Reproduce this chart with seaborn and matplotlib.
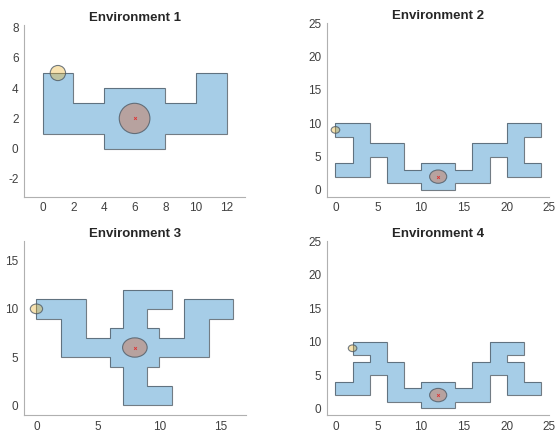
import numpy as np
import matplotlib
matplotlib.use("Agg")
import matplotlib.pyplot as plt
from matplotlib.patches import Polygon, Circle
import seaborn as sns

# environment outlines (x, y vertices)
env1_x = [0, 0, 2, 2, 4, 4, 8, 8, 10, 10, 12, 12, 8, 8, 4, 4]
env1_y = [1, 5, 5, 3, 3, 4, 4, 3, 3, 5, 5, 1, 1, 0, 0, 1]

env2_x = [0, 0, 2, 2, 0, 0, 4, 4, 8, 8, 10, 10, 14, 14, 16, 16, 20, 20, 24, 24,
          22, 22, 24, 24, 20, 20, 18, 18, 14, 14, 10, 10, 6, 6, 4, 4]
env2_y = [2, 4, 4, 8, 8, 10, 10, 7, 7, 3, 3, 4, 4, 3, 3, 7, 7, 10, 10, 8,
          8, 4, 4, 2, 2, 5, 5, 1, 1, 0, 0, 1, 1, 5, 5, 2]

env3_x = [0, 4, 4, 6, 6, 7, 7, 11, 11, 9, 9, 10, 10, 12, 12, 16, 16, 14, 14, 10,
          10, 9, 9, 11, 11, 7, 7, 6, 6, 2, 2, 0]
env3_y = [11, 11, 7, 7, 8, 8, 12, 12, 10, 10, 8, 8, 7, 7, 11, 11, 9, 9, 5, 5,
          4, 4, 2, 2, 0, 0, 4, 4, 5, 5, 9, 9]

env4_x = [0, 0, 2, 2, 4, 4, 2, 2, 6, 6, 8, 8, 10, 10, 14, 14, 16, 16, 18, 18,
          22, 22, 20, 20, 22, 22, 24, 24, 20, 20, 18, 18, 14, 14, 10, 10, 6, 6, 4, 4]
env4_y = [2, 4, 4, 7, 7, 8, 8, 10, 10, 7, 7, 3, 3, 4, 4, 3, 3, 7, 7, 10,
          10, 8, 8, 7, 7, 4, 4, 2, 2, 5, 5, 1, 1, 0, 0, 1, 1, 5, 5, 2]

start_pts = [(1, 5), (0, 9), (0, 10), (2, 9)]
goal_pts = [(6, 2), (12, 2), (8, 6), (12, 2)]
start_r = 0.5
goal_r = 1.0

titles = ["Environment 1", "Environment 2", "Environment 3", "Environment 4"]
outlines = [(env1_x, env1_y), (env2_x, env2_y), (env3_x, env3_y), (env4_x, env4_y)]

sns.set_style("white")
plt.rcParams['font.family'] = ['Liberation Sans', 'DejaVu Sans']
plt.rcParams['axes.unicode_minus'] = False

blue = "#0072bd"
orange = "#d95319"
yellow = "#edb120"
edge = "#4f5b66"

fig = plt.figure(figsize=(5.55, 4.37), dpi=100)
positions = [
    [0.0435, 0.550, 0.398, 0.393],
    [0.589, 0.550, 0.401, 0.397],
    [0.0435, 0.050, 0.399, 0.398],
    [0.589, 0.050, 0.401, 0.398],
]
limits = [
    ((-1.2, 13.2), (-3.17, 8.18), np.arange(0, 13, 2), np.arange(-2, 9, 2)),
    ((-1, 25), (-1, 25), np.arange(0, 26, 5), np.arange(0, 26, 5)),
    ((-1, 17), (-1, 17), np.arange(0, 16, 5), np.arange(0, 16, 5)),
    ((-1, 25), (-1, 25), np.arange(0, 26, 5), np.arange(0, 26, 5)),
]

for i in range(4):
    ax = fig.add_axes(positions[i])
    xs, ys = outlines[i]
    ax.add_patch(Polygon(np.column_stack([xs, ys]), closed=True,
                         facecolor=blue, alpha=0.35, edgecolor="none"))
    ax.add_patch(Polygon(np.column_stack([xs, ys]), closed=True,
                         facecolor="none", edgecolor=edge, lw=0.8, alpha=0.8))
    sx, sy = start_pts[i]
    ax.add_patch(Circle((sx, sy), start_r, facecolor=yellow, alpha=0.35,
                        edgecolor="none"))
    ax.add_patch(Circle((sx, sy), start_r, facecolor="none", edgecolor=edge,
                        lw=0.8, alpha=0.8))
    gx, gy = goal_pts[i]
    ax.add_patch(Circle((gx, gy), goal_r, facecolor=orange, alpha=0.35,
                        edgecolor="none"))
    ax.add_patch(Circle((gx, gy), goal_r, facecolor="none", edgecolor=edge,
                        lw=0.8, alpha=0.8))
    sns.scatterplot(x=[gx], y=[gy], marker="x", color="#e03030", s=4,
                    linewidth=0.6, ax=ax, zorder=5)

    xl, yl, xt, yt = limits[i]
    ax.set_xlim(xl)
    ax.set_ylim(yl)
    ax.set_xticks(xt)
    ax.set_yticks(yt)
    ax.set_title(titles[i], fontsize=9.5, fontweight="bold", pad=3)
    sns.despine(ax=ax)
    for s in ["left", "bottom"]:
        ax.spines[s].set_color("#b0b0b0")
        ax.spines[s].set_linewidth(0.8)
    ax.tick_params(direction="in", length=2, width=0.6, colors="#b0b0b0",
                   labelcolor="#404040", labelsize=8.5, pad=4)

fig.savefig("out.png", dpi=100)
